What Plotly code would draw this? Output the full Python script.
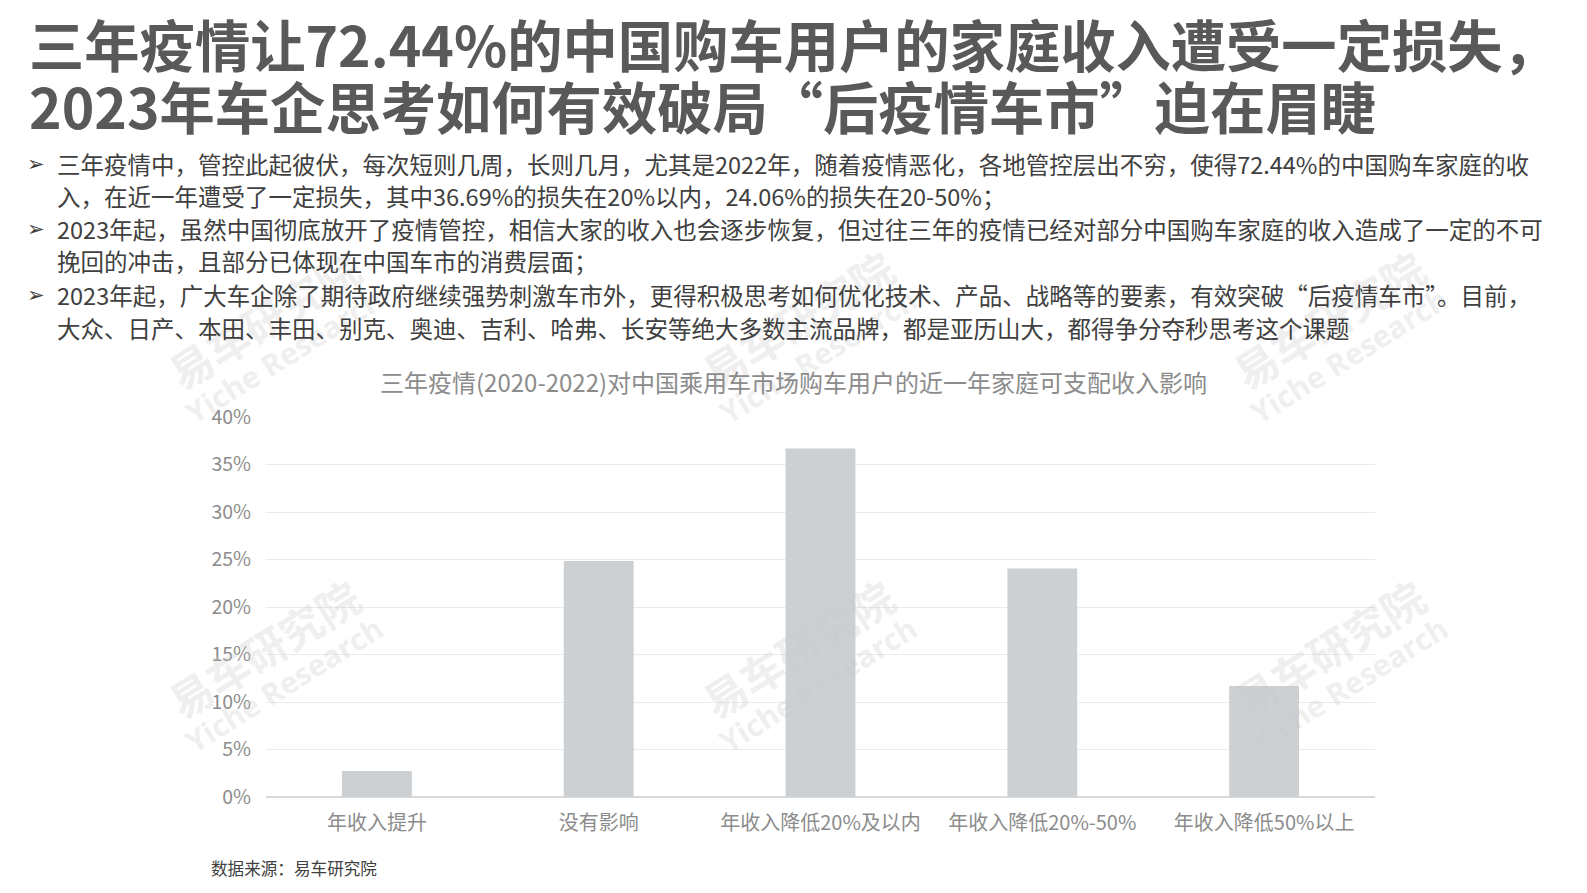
import plotly.graph_objects as go

categories = ["年收入提升", "没有影响", "年收入降低20%及以内", "年收入降低20%-50%", "年收入降低50%以上"]
values = [2.73, 24.83, 36.69, 24.06, 11.69]
y_ticks = [0, 5, 10, 15, 20, 25, 30, 35, 40]
y_tick_labels = ["0%", "5%", "10%", "15%", "20%", "25%", "30%", "35%", "40%"]

title_lines = [
    "三年疫情让72.44%的中国购车用户的家庭收入遭受一定损失，",
    "2023年车企思考如何有效破局“后疫情车市”迫在眉睫",
]
bullet_lines = [
    ("➢", "三年疫情中，管控此起彼伏，每次短则几周，长则几月，尤其是2022年，随着疫情恶化，各地管控层出不穷，使得72.44%的中国购车家庭的收"),
    ("", "入，在近一年遭受了一定损失，其中36.69%的损失在20%以内，24.06%的损失在20-50%；"),
    ("➢", "2023年起，虽然中国彻底放开了疫情管控，相信大家的收入也会逐步恢复，但过往三年的疫情已经对部分中国购车家庭的收入造成了一定的不可"),
    ("", "挽回的冲击，且部分已体现在中国车市的消费层面；"),
    ("➢", "2023年起，广大车企除了期待政府继续强势刺激车市外，更得积极思考如何优化技术、产品、战略等的要素，有效突破“后疫情车市”。目前，"),
    ("", "大众、日产、本田、丰田、别克、奥迪、吉利、哈弗、长安等绝大多数主流品牌，都是亚历山大，都得争分夺秒思考这个课题"),
]
chart_title = "三年疫情(2020-2022)对中国乘用车市场购车用户的近一年家庭可支配收入影响"
source_text = "数据来源：易车研究院"

W, H = 1587, 893
ML, MR, MT, MB = 266, 212, 417, 96
PW, PH = W - ML - MR, H - MT - MB

CJK = "Noto Sans CJK SC"


def px(x):
    return (x - ML) / PW


def py(y):
    return (H - MB - y) / PH


fig = go.Figure()
fig.add_trace(go.Bar(
    x=categories, y=values, marker=dict(color="#CDD0D3", line=dict(width=0)),
    width=0.315, hoverinfo="skip",
))

ann = []
# watermarks (drawn first)
wm_color = "rgba(200,200,200,0.30)"
for cx in [263, 797, 1328]:
    for cy in [319, 648]:
        ann.append(dict(text="<b>易车研究院</b>", x=px(cx), y=py(cy), xref="paper", yref="paper",
                        xanchor="center", yanchor="middle", showarrow=False, textangle=-32,
                        font=dict(family=CJK, size=43, color=wm_color)))
        ann.append(dict(text="<b>Yiche Research</b>", x=px(cx + 21), y=py(cy + 36), xref="paper", yref="paper",
                        xanchor="center", yanchor="middle", showarrow=False, textangle=-32,
                        font=dict(family="Open Sans", size=30, color=wm_color)))
# main title
for i, t in enumerate(title_lines):
    ann.append(dict(text=f"<b>{t}</b>", x=px(27), y=py(43 + i * 61.5), xref="paper", yref="paper",
                    xanchor="left", yanchor="middle", showarrow=False,
                    font=dict(family=CJK, size=55.3, color="#595959")))
# bullets
ys = [164, 196, 229, 261, 295, 328]
for (mark, t), yy in zip(bullet_lines, ys):
    if mark:
        ann.append(dict(text=mark, x=px(25), y=py(yy), xref="paper", yref="paper",
                        xanchor="left", yanchor="middle", showarrow=False,
                        font=dict(family="DejaVu Sans", size=21, color="#404040")))
    ann.append(dict(text=t, x=px(55), y=py(yy), xref="paper", yref="paper",
                    xanchor="left", yanchor="middle", showarrow=False,
                    font=dict(family=CJK, size=23.5, color="#404040")))
# chart title
ann.append(dict(text=chart_title, x=px(793), y=py(381), xref="paper", yref="paper",
                xanchor="center", yanchor="middle", showarrow=False,
                font=dict(family=CJK, size=24, color="#8C8C8C")))
# source
ann.append(dict(text=source_text, x=px(209), y=py(868), xref="paper", yref="paper",
                xanchor="left", yanchor="middle", showarrow=False,
                font=dict(family=CJK, size=16.6, color="#404040")))

fig.update_layout(
    width=W, height=H,
    margin=dict(l=ML, r=MR, t=MT, b=MB, pad=0),
    paper_bgcolor="white", plot_bgcolor="white",
    showlegend=False,
    bargap=0.685,
    annotations=ann,
    xaxis=dict(showgrid=False, showline=False, zeroline=False, ticks="",
               tickfont=dict(family=CJK, size=20, color="#8C8C8C"), ticklabelstandoff=12),
    yaxis=dict(range=[0, 40], tickvals=y_ticks, ticktext=y_tick_labels,
               showgrid=True, gridcolor="#EBEBEB", gridwidth=1,
               zeroline=True, zerolinecolor="#D9D9D9", zerolinewidth=1.5,
               showline=False, ticks="", ticklabelstandoff=14,
               tickfont=dict(family=CJK, size=19.5, color="#8C8C8C")),
)

fig.write_html("out.html", config={"displayModeBar": False},
               post_script="document.body.style.margin='0';document.body.style.overflow='hidden';")
